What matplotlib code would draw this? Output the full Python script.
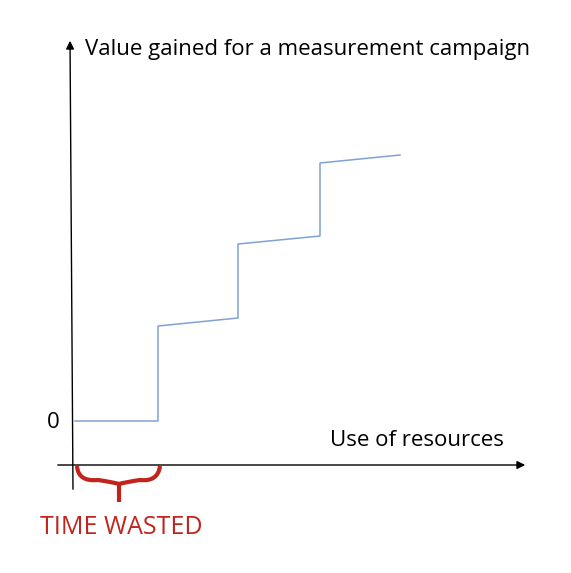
import matplotlib
matplotlib.use("Agg")
import matplotlib.pyplot as plt
from matplotlib.path import Path
import matplotlib.patches as patches

# step curve, in picture units (x right, y down)
step_x = [75, 158, 158, 238, 238, 320, 320, 400]
step_y = [421, 421, 326, 318, 244, 236, 163, 155]

fig = plt.figure(figsize=(5.71, 5.73), dpi=100)
ax = fig.add_axes([0, 0, 1, 1])
ax.set_xlim(0, 571)
ax.set_ylim(573, 0)
ax.axis("off")

# axes arrows
ax.annotate("", xy=(70, 38), xytext=(73, 492),
            arrowprops=dict(arrowstyle="-|>", color="black", lw=1, mutation_scale=12))
ax.annotate("", xy=(528, 465), xytext=(55, 465),
            arrowprops=dict(arrowstyle="-|>", color="black", lw=1, mutation_scale=12))

ax.plot(step_x, step_y, color="#7fa3d3", lw=1.1)

font = "Open Sans"
red = "#c0241c"
ax.text(85, 50, "Value gained for a measurement campaign", fontsize=16, family=font, va="center")
ax.text(330, 440, "Use of resources", fontsize=16, family=font, va="center")
ax.text(47, 422, "0", fontsize=16, family=font, va="center")
ax.text(40, 528, "TIME WASTED", fontsize=18, family=font, va="center", color=red)

# curly brace under the wasted interval
verts = [(77, 466), (78, 482), (98, 480), (112, 482), (119, 484), (119, 502),
         (119, 484), (126, 482), (140, 480), (158, 482), (160, 466)]
codes = [Path.MOVETO, Path.CURVE3, Path.CURVE3, Path.CURVE3, Path.CURVE3, Path.LINETO,
         Path.MOVETO, Path.CURVE3, Path.CURVE3, Path.CURVE3, Path.CURVE3]
ax.add_patch(patches.PathPatch(Path(verts, codes), fill=False, edgecolor=red, lw=3))

fig.savefig("out.png", dpi=100)
